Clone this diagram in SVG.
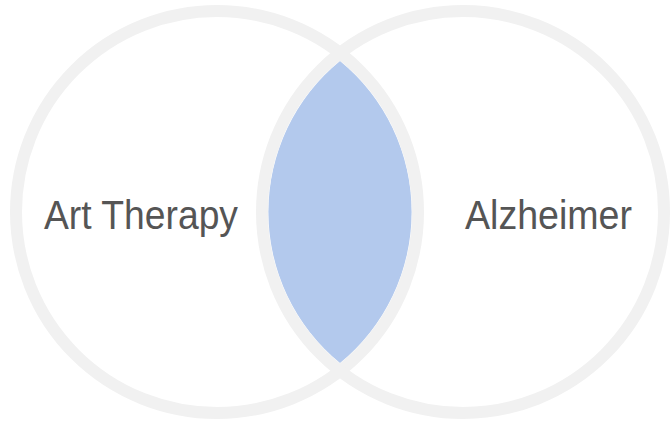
<svg xmlns="http://www.w3.org/2000/svg" width="670" height="421" viewBox="0 0 670 421">
<style>
.ring{fill:none;stroke:#f1f1f1;stroke-width:12}
.lbl{font-family:"Liberation Sans",Arial,sans-serif;font-size:40px;fill:#555555}
</style>
<rect width="670" height="421" fill="#ffffff"/>
<g id="overlap">
<path d="M340 61 A195 195 0 0 1 340 363 A195 195 0 0 1 340 61 Z" fill="#b3c9ed"/>
</g>
<g id="art-therapy">
<circle class="ring" cx="217" cy="212" r="201"/>
<text class="lbl" x="44" y="229" textLength="194" lengthAdjust="spacingAndGlyphs">Art Therapy</text>
</g>
<g id="alzheimer">
<circle class="ring" cx="463" cy="212" r="201"/>
<text class="lbl" x="465" y="229" textLength="167" lengthAdjust="spacingAndGlyphs">Alzheimer</text>
</g>
<g id="connectors"></g>
</svg>
